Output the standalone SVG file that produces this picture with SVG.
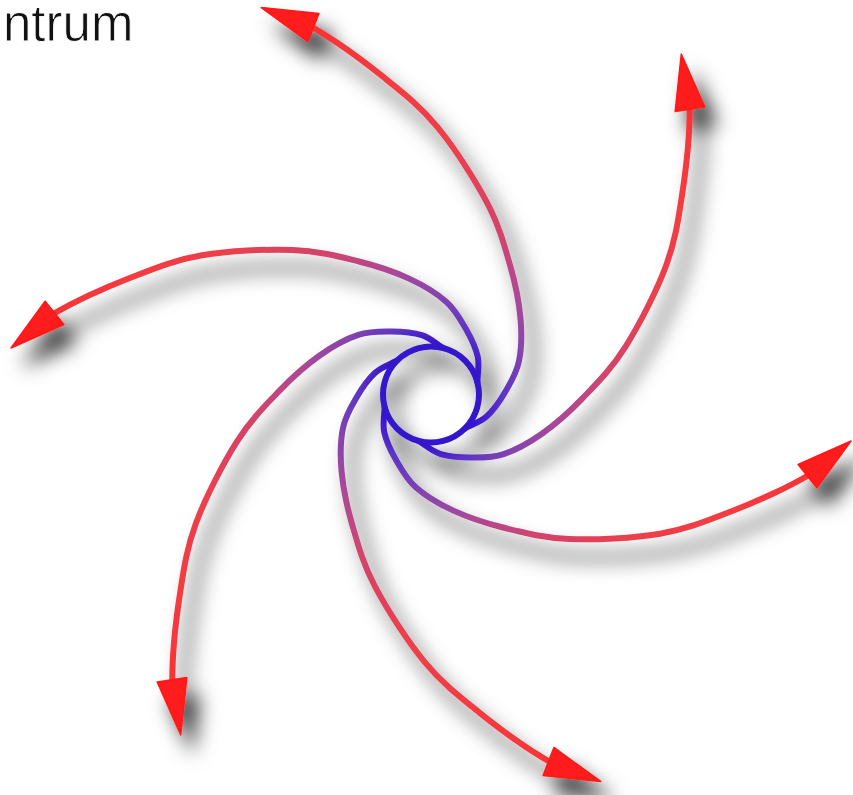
<svg xmlns="http://www.w3.org/2000/svg" xmlns:xlink="http://www.w3.org/1999/xlink" width="853" height="795" viewBox="0 0 853 795">
  <style>
    .curve { fill: none; stroke: url(#spiralGrad); stroke-width: 6; stroke-linecap: round; stroke-linejoin: round; }
    .head { fill: #ff1a1a; stroke: #ff1a1a; stroke-width: 1.5; stroke-linejoin: round; }
    .label { font-family: "Liberation Sans", Arial, sans-serif; font-size: 51px; fill: #111111; stroke: #ffffff; stroke-width: 0.8px; }
  </style>
  <defs>
    <radialGradient id="spiralGrad" gradientUnits="userSpaceOnUse" cx="431" cy="394.5" r="430">
      <stop offset="0" stop-color="#3010d0"/>
      <stop offset="0.118" stop-color="#3414cc"/>
      <stop offset="0.165" stop-color="#5c34c4"/>
      <stop offset="0.23" stop-color="#8444ae"/>
      <stop offset="0.30" stop-color="#aa4896"/>
      <stop offset="0.40" stop-color="#d0446e"/>
      <stop offset="0.56" stop-color="#ea404e"/>
      <stop offset="0.72" stop-color="#f23c42"/>
      <stop offset="1" stop-color="#fa3030"/>
    </radialGradient>
    <filter id="shadow" x="-10%" y="-10%" width="125%" height="125%">
      <feGaussianBlur in="SourceAlpha" stdDeviation="10"/>
      <feOffset dx="12" dy="18" result="b"/>
      <feFlood flood-color="#000000" flood-opacity="0.8"/>
      <feComposite in2="b" operator="in"/>
      <feMerge>
        <feMergeNode/>
        <feMergeNode in="SourceGraphic"/>
      </feMerge>
    </filter>
    <path id="armCurve" class="curve" d="M397.2,360.4 A48,48 0 0 0 384.6,406.7 C384.8,412.3 382.3,423.2 384.2,432 C386.1,440.8 390.6,450.5 395.9,459.7 C401.2,468.9 406.3,478.9 415.8,487.3 C425.3,495.8 438.4,503.7 452.9,510.4 C467.4,517.1 483.6,522.7 503,527.5 C522.4,532.3 543,538 569.2,539 C595.4,540 633,538.3 660,533.7 C687,529.1 706.4,521.1 731,511.5 C755.6,501.9 789.6,486.3 809,475"/>
    <polygon id="armHead" class="head" points="851,441 816.9,487.9 798.1,464.5"/>
  </defs>

  <g id="title">
    <text class="label" x="3" y="41">ntrum</text>
  </g>

  <g id="connectors" filter="url(#shadow)">
    <g id="arm-right">
      <use xlink:href="#armCurve"/>
      <use xlink:href="#armHead"/>
    </g>
    <g id="arm-bottom-right" transform="rotate(60 431 394.5)">
      <use xlink:href="#armCurve"/>
      <use xlink:href="#armHead"/>
    </g>
    <g id="arm-bottom-left" transform="rotate(120 431 394.5)">
      <use xlink:href="#armCurve"/>
      <use xlink:href="#armHead"/>
    </g>
    <g id="arm-left" transform="rotate(180 431 394.5)">
      <use xlink:href="#armCurve"/>
      <use xlink:href="#armHead"/>
    </g>
    <g id="arm-top-left" transform="rotate(240 431 394.5)">
      <use xlink:href="#armCurve"/>
      <use xlink:href="#armHead"/>
    </g>
    <g id="arm-top-right" transform="rotate(300 431 394.5)">
      <use xlink:href="#armCurve"/>
      <use xlink:href="#armHead"/>
    </g>
  </g>
</svg>
